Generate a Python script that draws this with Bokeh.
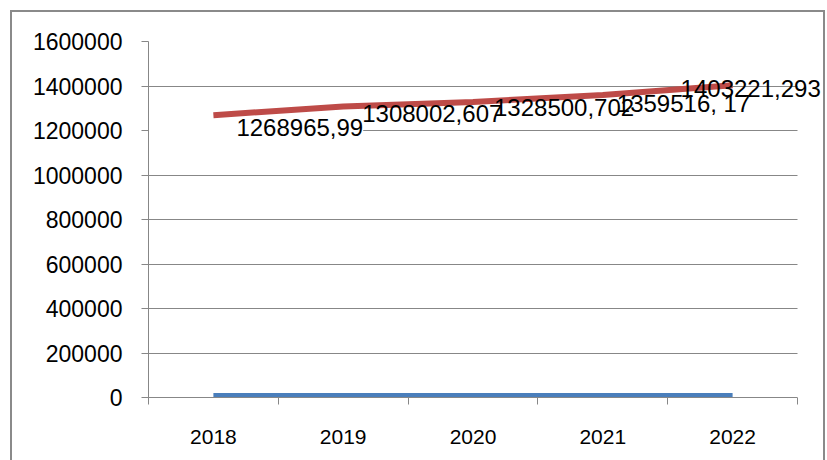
from bokeh.plotting import figure
from bokeh.models import (ColumnDataSource, FixedTicker, NumeralTickFormatter, Range1d,
                          LabelSet, BoxAnnotation)
from bokeh.core.properties import value
from bokeh.embed import file_html
from bokeh.resources import INLINE

# ---- data ----
years = [2018, 2019, 2020, 2021, 2022]
series_red = [1268965.99, 1308002.607, 1328500.702, 1359516.17, 1403221.293]
series_blue = [2018, 2019, 2020, 2021, 2022]
red_labels = ["1268965,99", "1308002,607", "1328500,702", "1359516,  17", "1403221,293"]
y_ticks = [0, 200000, 400000, 600000, 800000, 1000000, 1200000, 1400000, 1600000]

# ---- layout / style constants ----
label_dx = [23, 19, 21, 14, -52]
label_dy = [12, 7, 6, 8, 3]          # pixels downward
PAD = 88                               # white box of first label reaches the axis
GRAY = "#878787"
FONT = "Liberation Sans"
LABEL_SIZE = "24px"
PLOT_W = 649                           # width of the category area
EXTRA_W = 26                           # room on the right for the last label
unit = PLOT_W / len(years)
x_start = years[0] - 0.5
x_end = years[-1] + 0.5

p = figure(frame_width=PLOT_W + EXTRA_W, frame_height=356,
           min_border_left=136, min_border_top=29, min_border_right=0, min_border_bottom=70,
           output_backend="svg", toolbar_location=None,
           x_range=Range1d(x_start, x_end + EXTRA_W / unit),
           y_range=Range1d(y_ticks[0], y_ticks[-1]))
p.margin = (10, 0, 0, 10)
p.styles = {"border": "2px solid #8a8a8a"}
p.outline_line_color = None
p.background_fill_color = "white"
p.border_fill_color = "white"

# grid
p.xgrid.visible = False
p.ygrid.ticker = FixedTicker(ticks=y_ticks)
p.ygrid.grid_line_color = GRAY
p.ygrid.grid_line_width = 1

# y axis
p.yaxis.ticker = FixedTicker(ticks=y_ticks)
p.yaxis.formatter = NumeralTickFormatter(format="0")
p.yaxis.axis_line_color = GRAY
p.yaxis.major_tick_line_color = GRAY
p.yaxis.major_tick_out = 7
p.yaxis.major_tick_in = 0
p.yaxis.minor_tick_line_color = None
p.yaxis.major_label_standoff = 19
p.yaxis.major_label_text_font = FONT
p.yaxis.major_label_text_font_size = "23px"
p.yaxis.major_label_text_color = "black"

# x axis: labels at category centres, tick marks at category boundaries
boundaries = [y - 0.5 for y in years] + [years[-1] + 0.5]
p.xaxis.ticker = FixedTicker(ticks=years, minor_ticks=boundaries)
p.xaxis.bounds = (x_start, x_end)
p.xaxis.axis_line_color = GRAY
p.xaxis.major_tick_line_color = None
p.xaxis.major_tick_out = 0
p.xaxis.major_tick_in = 0
p.xaxis.minor_tick_line_color = GRAY
p.xaxis.minor_tick_out = 7
p.xaxis.minor_tick_in = 0
p.xaxis.major_label_standoff = 25
p.xaxis.major_label_text_font = FONT
p.xaxis.major_label_text_font_size = "21px"
p.xaxis.major_label_text_color = "black"

src = ColumnDataSource(data=dict(x=years, red=series_red, blue=series_blue))

# blue series
p.line("x", "blue", source=src, line_color="#4a7ebb", line_width=8)

# first label with white box (hides part of the 1200000 gridline as in the original)
first = ColumnDataSource(data=dict(x=years[:1], y=series_red[:1], lab=red_labels[:1]))
p.text("x", "y", text="lab", x_offset=label_dx[0] - PAD, y_offset=label_dy[0], source=first,
       text_font=value(FONT), text_font_size=LABEL_SIZE, text_align="left",
       text_baseline="middle", text_color="black", background_fill_color="white",
       padding=dict(left=PAD, right=0, top=0, bottom=0))

# red series
p.line("x", "red", source=src, line_color="#be4b48", line_width=6)

# blank the spare strip right of the category area (gridlines stop at the last boundary)
p.add_layout(BoxAnnotation(left=x_end, fill_color="white", fill_alpha=1.0, line_color=None))

# remaining labels (the last one runs past the category area, as in the original)
rest = ColumnDataSource(data=dict(x=years[1:], y=series_red[1:], lab=red_labels[1:],
                                  dx=label_dx[1:], dy=[-d for d in label_dy[1:]]))
p.add_layout(LabelSet(x="x", y="y", text="lab", x_offset="dx", y_offset="dy", source=rest,
                      text_font=value(FONT), text_font_size=LABEL_SIZE, text_align="left",
                      text_baseline="middle", text_color="black"))

open("out.html", "w").write(file_html(p, INLINE))
